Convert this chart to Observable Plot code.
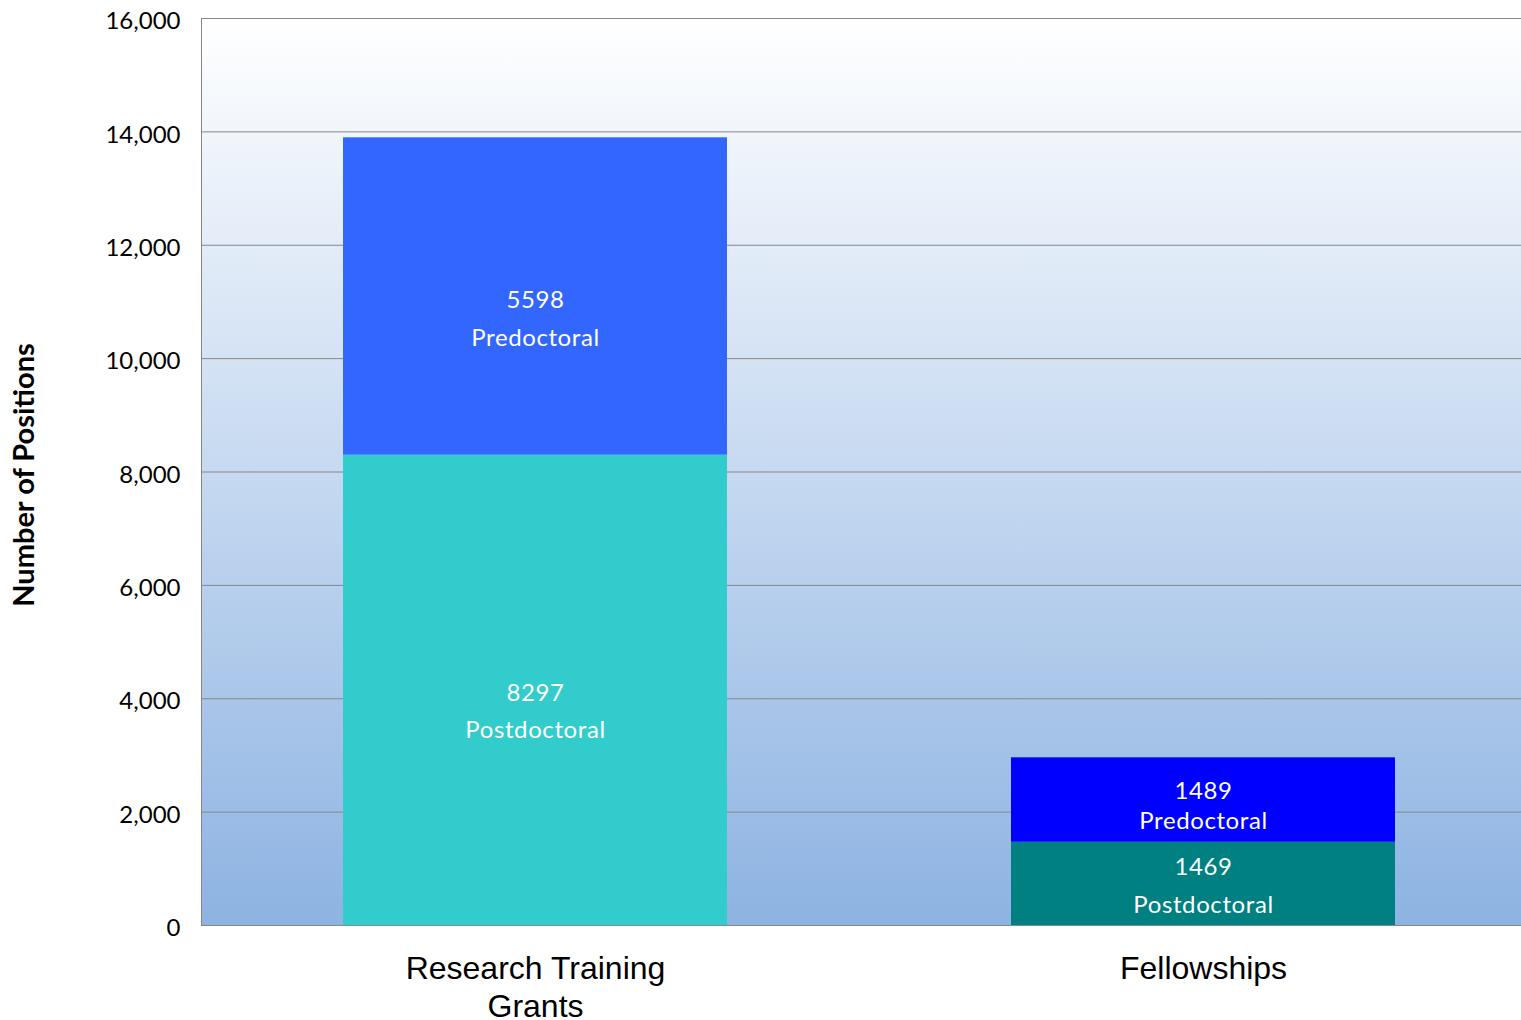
<!DOCTYPE html>
<html>
<head>
<meta charset="utf-8">
<script src="https://cdn.jsdelivr.net/npm/d3@7"></script>
<script src="https://cdn.jsdelivr.net/npm/@observablehq/plot@0.6"></script>
<style>
  html, body { margin: 0; padding: 0; background: #fff; overflow: hidden; }
  #chart svg { display: block; max-width: none !important; }
  .seglabel text, text.seglabel { letter-spacing: 0.6px; }
</style>
</head>
<body>
<div id="chart"></div>
<script>
const categories = ["Research Training Grants", "Fellowships"];
const categoryLabels = ["Research Training\nGrants", "Fellowships"];
const segments = ["Postdoctoral", "Predoctoral"];
const postdoctoral = [8297, 1469];
const predoctoral = [5598, 1489];
const segmentColors = {
  "Research Training Grants|Postdoctoral": "#33CCCC",
  "Research Training Grants|Predoctoral": "#3366FF",
  "Fellowships|Postdoctoral": "#008080",
  "Fellowships|Predoctoral": "#0000FF"
};
const yTicks = [0, 2000, 4000, 6000, 8000, 10000, 12000, 14000, 16000];

const rows = [];
categories.forEach((c, i) => {
  rows.push({cat: c, seg: "Postdoctoral", value: postdoctoral[i]});
  rows.push({cat: c, seg: "Predoctoral", value: predoctoral[i]});
});
rows.forEach(r => {
  r.color = segmentColors[r.cat + "|" + r.seg];
  r.label = r.value + "\n" + r.seg;
});

const gradientDefs = () => {
  const ns = "http://www.w3.org/2000/svg";
  const defs = document.createElementNS(ns, "defs");
  const lg = document.createElementNS(ns, "linearGradient");
  lg.setAttribute("id", "bgGrad");
  lg.setAttribute("x1", "0"); lg.setAttribute("y1", "0");
  lg.setAttribute("x2", "0"); lg.setAttribute("y2", "1");
  [["0%", "#FFFFFF"], ["100%", "#8DB3E2"]].forEach(([o, c]) => {
    const s = document.createElementNS(ns, "stop");
    s.setAttribute("offset", o); s.setAttribute("stop-color", c);
    lg.appendChild(s);
  });
  defs.appendChild(lg);
  return defs;
};

const labelFont = {fill: "white", fontSize: 24, fontFamily: "Lato, sans-serif", stroke: null, className: "seglabel"};
const stacked = (test, extra) => Plot.filter(test, Plot.stackY({
  x: "cat", y: "value", z: "seg", order: segments, text: "label",
  lineAnchor: "middle", ...labelFont, ...extra
}));

const plot = Plot.plot({
  width: 1537,
  height: 1020,
  marginLeft: 201,
  marginRight: 0,
  marginTop: 18,
  marginBottom: 95,
  style: {fontFamily: "Lato, sans-serif", color: "#000", background: "#fff"},
  x: {domain: categories, paddingInner: 0.425, paddingOuter: 0.2125, label: null},
  y: {domain: [0, 16000], label: null},
  color: {type: "identity"},
  marks: [
    gradientDefs,
    Plot.frame({fill: "url(#bgGrad)", stroke: null}),
    Plot.gridY(yTicks, {stroke: "#868686", strokeOpacity: 1, strokeWidth: 1}),
    Plot.frame({anchor: "left", stroke: "#868686", strokeWidth: 1}),
    Plot.frame({anchor: "bottom", stroke: "#868686", strokeWidth: 1}),
    Plot.barY(rows, {x: "cat", y: "value", fill: "color", order: segments, z: "seg", inset: 0}),
    Plot.text(rows, stacked(d => d.cat === "Research Training Grants" && d.seg === "Predoctoral", {lineHeight: 1.58, dy: 18})),
    Plot.text(rows, stacked(d => d.cat === "Research Training Grants" && d.seg === "Postdoctoral", {lineHeight: 1.58, dy: 17})),
    Plot.text(rows, stacked(d => d.cat === "Fellowships" && d.seg === "Postdoctoral", {lineHeight: 1.58, dy: -2})),
    Plot.text(rows, stacked(d => d.cat === "Fellowships" && d.seg === "Predoctoral", {lineHeight: 1.25, dy: 4})),
    Plot.axisY({
      ticks: yTicks, tickFormat: d3.format(","), tickSize: 0, tickPadding: 21, dy: 3,
      fontSize: 24, fontFamily: "Lato, sans-serif", label: null
    }),
    Plot.axisX({
      tickSize: 0, tickPadding: 26, fontSize: 32, lineHeight: 1.19,
      fontFamily: "'Liberation Sans', Arial, sans-serif", label: null,
      tickFormat: d => categoryLabels[categories.indexOf(d)]
    }),
    Plot.text(["Number of Positions"], {
      frameAnchor: "left", textAnchor: "middle", dx: -177, dy: 3, rotate: -90, fontSize: 29, fontWeight: "bold",
      fontFamily: "Lato, sans-serif", fill: "#000"
    })
  ]
});
document.getElementById("chart").appendChild(plot);
</script>
</body>
</html>
